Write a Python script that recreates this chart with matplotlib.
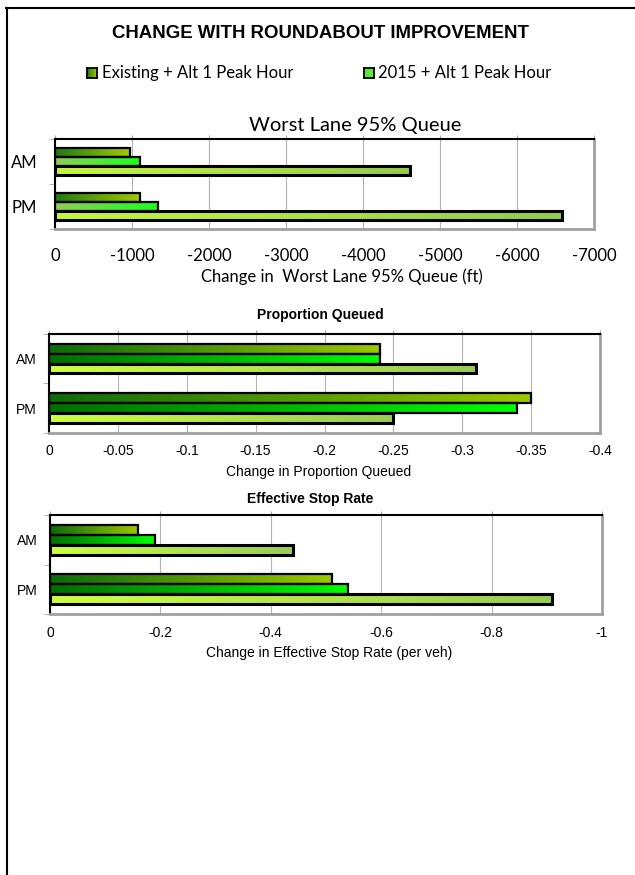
import numpy as np
import matplotlib
matplotlib.use("Agg")
import matplotlib.pyplot as plt
from matplotlib.colors import to_rgb
from matplotlib.lines import Line2D
from matplotlib.ticker import FuncFormatter

plt.rcParams['axes.unicode_minus'] = False

periods = ['AM', 'PM']
legend_names = ['Existing + Alt 1 Peak Hour', '2015 + Alt 1 Peak Hour']

# worst lane 95% queue change (ft)
queue_existing = [-970, -1110]
queue_2015 = [-1110, -1340]
queue_third = [-4610, -6590]
queue_ticks = [0, -1000, -2000, -3000, -4000, -5000, -6000, -7000]

# proportion queued change
prop_existing = [-0.24, -0.35]
prop_2015 = [-0.24, -0.34]
prop_third = [-0.31, -0.25]
prop_ticks = [0, -0.05, -0.1, -0.15, -0.2, -0.25, -0.3, -0.35, -0.4]

# effective stop rate change (per veh)
stop_existing = [-0.16, -0.51]
stop_2015 = [-0.19, -0.54]
stop_third = [-0.44, -0.91]
stop_ticks = [0, -0.2, -0.4, -0.6, -0.8, -1]

W, H = 635, 875
fig = plt.figure(figsize=(W / 100, H / 100), dpi=100)

CAL = 'Lato'
ARI = 'Liberation Sans'


def ramp(c0, c1):
    a, b = np.array(to_rgb(c0)), np.array(to_rgb(c1))
    t = np.linspace(0, 1, 256)[:, None]
    return (a + (b - a) * t)[None, :, :]


def px_axes(left, top, right, bottom):
    return fig.add_axes([left / W, 1 - bottom / H, (right - left) / W, (bottom - top) / H])


def gradient_bars(ax, series, colors, lws=(1.6, 1.6, 2.2)):
    y = np.arange(len(periods))
    h = 0.2
    for i, (vals, (c0, c1), lw) in enumerate(zip(series, colors, lws)):
        bars = ax.barh(y + (i - 1) * h, vals, height=h, facecolor='none',
                       edgecolor='black', linewidth=lw, zorder=3)
        for p in bars:
            x0, y0 = p.get_x(), p.get_y()
            ax.imshow(ramp(c0, c1), extent=(x0, x0 + p.get_width(), y0 + p.get_height(), y0),
                      aspect='auto', interpolation='bilinear', zorder=2)


def style(ax, ticks, font, size, xpad, ypad):
    ax.set_xlim(ticks[0], ticks[-1])
    ax.set_ylim(1.5, -0.5)
    ax.set_xticks(ticks)
    ax.xaxis.set_major_formatter(FuncFormatter(lambda v, _: f"{v + 0:g}"))
    ax.set_yticks([0, 1])
    ax.set_yticklabels(periods)
    ax.set_yticks([-0.5, 0.5, 1.5], minor=True)
    ax.grid(axis='x', color='#b4b4b4', lw=0.8)
    ax.set_axisbelow(True)
    ax.tick_params(axis='x', which='major', top=True, bottom=False, labelbottom=True,
                   direction='out', length=3, color='#aaaaaa', pad=xpad)
    ax.tick_params(axis='y', which='major', length=0, pad=ypad)
    ax.tick_params(axis='y', which='minor', length=4, color='#aaaaaa', direction='out')
    for lab in ax.get_xticklabels() + ax.get_yticklabels():
        lab.set_fontfamily(font)
        lab.set_fontsize(size)
    for s in ('top', 'left'):
        ax.spines[s].set_color('black')
        ax.spines[s].set_linewidth(1.5)
    for s in ('right', 'bottom'):
        ax.spines[s].set_color('#a0a0a0')
        ax.spines[s].set_linewidth(2)


# page border
fig.add_artist(Line2D([6.5 / W, 6.5 / W], [0, 1 - 8 / H], color='black', lw=1.5))
fig.add_artist(Line2D([6 / W, 1], [1 - 8 / H, 1 - 8 / H], color='black', lw=1.5))

fig.text(320.5 / W, 1 - 33 / H, 'CHANGE WITH ROUNDABOUT IMPROVEMENT', ha='center', va='center',
         fontsize=13.4, fontweight='bold', family=ARI)

# legend
legend_colors = [('#1e7a14', '#a6c800'), ('#55e03a', '#66f040')]
for (cx, tx), name, (c0, c1) in zip([(92, 102), (369, 378)], legend_names, legend_colors):
    lax = fig.add_axes([(cx - 5) / W, 1 - 78 / H, 10 / W, 10 / H])
    lax.imshow(ramp(c0, c1), aspect='auto', extent=(0, 1, 0, 1))
    lax.set_xticks([])
    lax.set_yticks([])
    for s in lax.spines.values():
        s.set_linewidth(1.3)
    fig.text(tx / W, 1 - 73 / H, name, ha='left', va='center', fontsize=12, family=CAL)

# worst lane queue
ax1 = px_axes(55, 139, 594, 229)
gradient_bars(ax1, [queue_existing, queue_2015, queue_third],
              [('#1e7a14', '#a6c800'), ('#90cc5c', '#1aff1a'), ('#c8f540', '#92cc4c')])
style(ax1, queue_ticks, CAL, 12, 11.0, 12.7)
ax1.text((355 - 55) / 539, 1 + 14 / 90, 'Worst Lane 95% Queue', transform=ax1.transAxes,
         ha='center', va='center', fontsize=14.5, family=CAL)
ax1.set_xlabel('Change in  Worst Lane 95% Queue (ft)', fontsize=12, family=CAL, va='center')
ax1.xaxis.set_label_coords((342 - 55) / 539, -(276.7 - 229) / 90)

# proportion queued
ax2 = px_axes(49, 334, 600, 432.7)
gradient_bars(ax2, [prop_existing, prop_2015, prop_third],
              [('#0b6b0b', '#9cc800'), ('#006e00', '#00ff00'), ('#ccff40', '#99cc55')])
style(ax2, prop_ticks, ARI, 10, 5.1, 8.9)
ax2.text((320.5 - 49) / 551, 1 + 19 / 98.7, 'Proportion Queued', transform=ax2.transAxes,
         ha='center', va='center', fontsize=10, fontweight='bold', family=ARI)
ax2.set_xlabel('Change in Proportion Queued', fontsize=10, family=ARI, va='center')
ax2.xaxis.set_label_coords((319 - 49) / 551, -(472.3 - 432.7) / 98.7)

# effective stop rate
ax3 = px_axes(50, 515, 602, 614)
gradient_bars(ax3, [stop_existing, stop_2015, stop_third],
              [('#0b6b0b', '#9cc800'), ('#006e00', '#00ff00'), ('#ccff40', '#99cc55')])
style(ax3, stop_ticks, ARI, 10, 5.4, 9.1)
ax3.text((310 - 50) / 552, 1 + 16 / 99, 'Effective Stop Rate', transform=ax3.transAxes,
         ha='center', va='center', fontsize=10, fontweight='bold', family=ARI)
ax3.set_xlabel('Change in Effective Stop Rate (per veh)', fontsize=10, family=ARI, va='center')
ax3.xaxis.set_label_coords((329 - 50) / 552, -(653.3 - 614) / 99)

fig.savefig('out.png', dpi=100)
